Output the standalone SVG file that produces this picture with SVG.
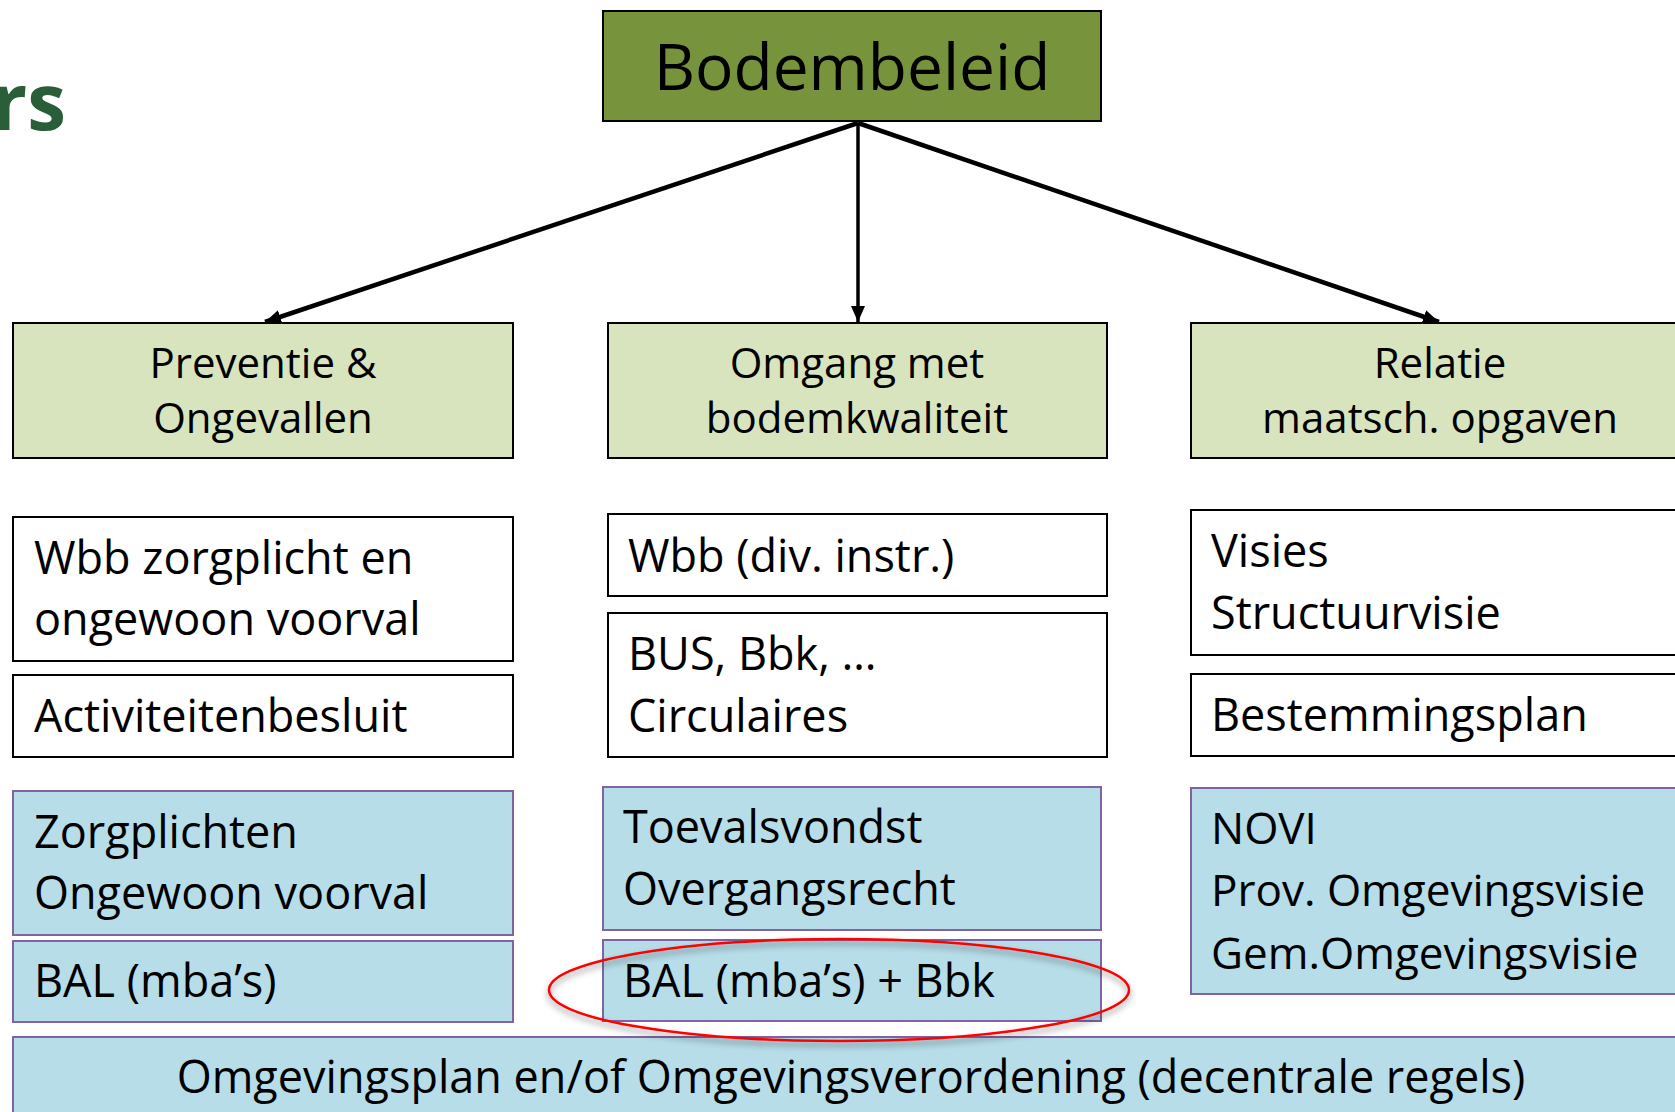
<svg xmlns="http://www.w3.org/2000/svg" width="1675" height="1112" viewBox="0 0 1675 1112">
  <defs>
    <marker id="arrow" viewBox="0 0 16 14" refX="16" refY="7" markerWidth="16" markerHeight="14" markerUnits="userSpaceOnUse" orient="auto">
      <path d="M0,0 L16,7 L0,14 z" fill="#000"/>
    </marker>
    <filter id="shadow" x="-10%" y="-30%" width="120%" height="170%">
      <feDropShadow dx="0" dy="4" stdDeviation="3" flood-color="#000" flood-opacity="0.45"/>
    </filter>
  </defs>
  <style>
    text { font-family: "Open Sans", "Noto Sans", "DejaVu Sans", sans-serif; fill: #000; }
    .top { fill: #77933C; stroke: #000; stroke-width: 2; }
    .green { fill: #D7E4BD; stroke: #000; stroke-width: 2; }
    .white { fill: #FFFFFF; stroke: #000; stroke-width: 2; }
    .blue { fill: #B7DDE8; stroke: #8064A2; stroke-width: 2; }
    .hdr { font-size: 42px; text-anchor: middle; }
    .body { font-size: 45px; }
    .title { font-size: 64px; text-anchor: middle; }
    .conn { stroke: #000; fill: none; }
  </style>
  <rect width="1675" height="1112" fill="#FFFFFF"/>

  <text x="66" y="130" text-anchor="end" style="font-size:78px;font-weight:bold;fill:#2A5E38">rs</text>

  <g id="connectors">
    <line class="conn" x1="858" y1="123" x2="265" y2="322" stroke-width="4.5" marker-end="url(#arrow)"/>
    <line class="conn" x1="858" y1="123" x2="858" y2="322" stroke-width="3.5" marker-end="url(#arrow)"/>
    <line class="conn" x1="858" y1="123" x2="1439" y2="322" stroke-width="4.5" marker-end="url(#arrow)"/>
  </g>

  <g id="bodembeleid">
    <rect class="top" x="603" y="11" width="498" height="110"/>
    <text class="title" x="852" y="90">Bodembeleid</text>
  </g>

  <g id="preventie">
    <rect class="green" x="13" y="323" width="500" height="135"/>
    <text class="hdr" x="263" y="378">Preventie &amp;</text>
    <text class="hdr" x="263" y="433">Ongevallen</text>
  </g>
  <g id="omgang">
    <rect class="green" x="608" y="323" width="499" height="135"/>
    <text class="hdr" x="857" y="378">Omgang met</text>
    <text class="hdr" x="857" y="433">bodemkwaliteit</text>
  </g>
  <g id="relatie">
    <rect class="green" x="1191" y="323" width="500" height="135"/>
    <text class="hdr" x="1440" y="378">Relatie</text>
    <text class="hdr" x="1440" y="433">maatsch. opgaven</text>
  </g>

  <g id="wbb-zorgplicht">
    <rect class="white" x="13" y="517" width="500" height="144"/>
    <text class="body" x="34" y="574">Wbb zorgplicht en</text>
    <text class="body" x="34" y="635">ongewoon voorval</text>
  </g>
  <g id="activiteitenbesluit">
    <rect class="white" x="13" y="675" width="500" height="82"/>
    <text class="body" x="34" y="732">Activiteitenbesluit</text>
  </g>
  <g id="wbb-div">
    <rect class="white" x="608" y="514" width="499" height="82"/>
    <text class="body" x="628" y="572">Wbb (div. instr.)</text>
  </g>
  <g id="bus-bbk">
    <rect class="white" x="608" y="613" width="499" height="144"/>
    <text class="body" x="628" y="670">BUS, Bbk, …</text>
    <text class="body" x="628" y="732">Circulaires</text>
  </g>
  <g id="visies">
    <rect class="white" x="1191" y="510" width="500" height="145"/>
    <text class="body" x="1211" y="567">Visies</text>
    <text class="body" x="1211" y="629">Structuurvisie</text>
  </g>
  <g id="bestemmingsplan">
    <rect class="white" x="1191" y="674" width="500" height="82"/>
    <text class="body" x="1211" y="731">Bestemmingsplan</text>
  </g>

  <g id="zorgplichten">
    <rect class="blue" x="13" y="791" width="500" height="144"/>
    <text class="body" x="34" y="848">Zorgplichten</text>
    <text class="body" x="34" y="909">Ongewoon voorval</text>
  </g>
  <g id="bal-mbas">
    <rect class="blue" x="13" y="941" width="500" height="81"/>
    <text class="body" x="34" y="997">BAL (mba’s)</text>
  </g>
  <g id="toevalsvondst">
    <rect class="blue" x="603" y="787" width="498" height="143"/>
    <text class="body" x="623" y="843">Toevalsvondst</text>
    <text class="body" x="623" y="905">Overgangsrecht</text>
  </g>
  <g id="bal-bbk">
    <rect class="blue" x="603" y="940" width="498" height="81"/>
    <text class="body" x="623" y="997">BAL (mba’s) + Bbk</text>
  </g>
  <g id="novi">
    <rect class="blue" x="1191" y="788" width="500" height="206"/>
    <text class="body" x="1211" y="844" style="font-size:44px">NOVI</text>
    <text class="body" x="1211" y="906" style="font-size:44px">Prov. Omgevingsvisie</text>
    <text class="body" x="1211" y="969" style="font-size:44px">Gem.Omgevingsvisie</text>
  </g>
  <g id="omgevingsplan">
    <rect class="blue" x="13" y="1037" width="1680" height="100"/>
    <text class="body" x="851" y="1093" text-anchor="middle">Omgevingsplan en/of Omgevingsverordening (decentrale regels)</text>
  </g>

  <g id="highlight">
    <ellipse cx="839" cy="990" rx="290" ry="51" fill="none" stroke="#FF0000" stroke-width="2.5" filter="url(#shadow)"/>
  </g>
</svg>
